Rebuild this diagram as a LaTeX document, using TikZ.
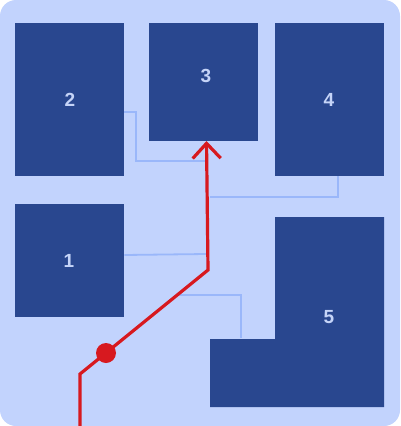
\documentclass[tikz,border=0pt]{standalone}
\usepackage{fontspec}
\setsansfont{Liberation Sans}
\usetikzlibrary{arrows.meta}
\definecolor{panel}{HTML}{C2D3FD}
\definecolor{roomblue}{HTML}{29478F}
\definecolor{roomtext}{HTML}{C5D4F8}
\definecolor{wire}{HTML}{9AB7FA}
\definecolor{route}{HTML}{D7191F}
\tikzset{
  room/.style={fill=roomblue, draw=none, inner sep=0pt, anchor=north west},
  roomlabel/.style={text=roomtext, font=\sffamily\bfseries\fontsize{19}{19}\selectfont},
  wire/.style={draw=wire, line width=1.8pt},
  route/.style={draw=route, line width=3.2pt}
}
\begin{document}
\begin{tikzpicture}[x=1pt,y=-1pt]
    \useasboundingbox (0,0) rectangle (400,426);
    \fill [white] (0,0) rectangle (400,426);
    \fill [panel, rounded corners=16pt] (0,0) rectangle (400,426);
    % rooms
    \node [room, minimum width=109pt, minimum height=153pt] (b2) at (15,23) {};
    \node [room, minimum width=109pt, minimum height=118pt] (b3) at (149,23) {};
    \node [room, minimum width=109pt, minimum height=153pt] (b4) at (275,23) {};
    \node [room, minimum width=109pt, minimum height=113pt] (b1) at (15,204) {};
    \fill [roomblue] (275,217) -- (384,217) -- (384,407) -- (210,407) -- (210,339) -- (275,339) -- cycle;
    \node [roomlabel] (l1) at (69,261) {1};
    \node [roomlabel] (l2) at (70,100) {2};
    \node [roomlabel] (l3) at (206,76) {3};
    \node [roomlabel] (l4) at (329,100) {4};
    \node [roomlabel] (l5) at (329,317) {5};
    % wires
    \coordinate (w2) at (124,112);
    \coordinate (w4) at (338,176);
    \coordinate (w5) at (241,338);
    \draw [wire] (w2) -- (136,112) -- (136,161) -- (205,161);
    \draw [wire] (w4) -- (338,197) -- (210,197);
    \draw [wire] (b1.east |- 0,255) -- (206,254);
    \draw [wire] (w5) -- (241,295) -- (178,295);
    % route
    \coordinate (start) at (80,426);
    \coordinate (r1) at (80,374);
    \coordinate (r2) at (208,270);
    \coordinate (tip) at (206.5,141);
    \draw [route, -{Straight Barb[length=15pt, width=28pt]}] (start) -- (r1) -- (r2) -- (tip);
    \node [circle, fill=route, inner sep=0pt, minimum size=20pt] (probe) at (106,353) {};
\end{tikzpicture}
\end{document}
